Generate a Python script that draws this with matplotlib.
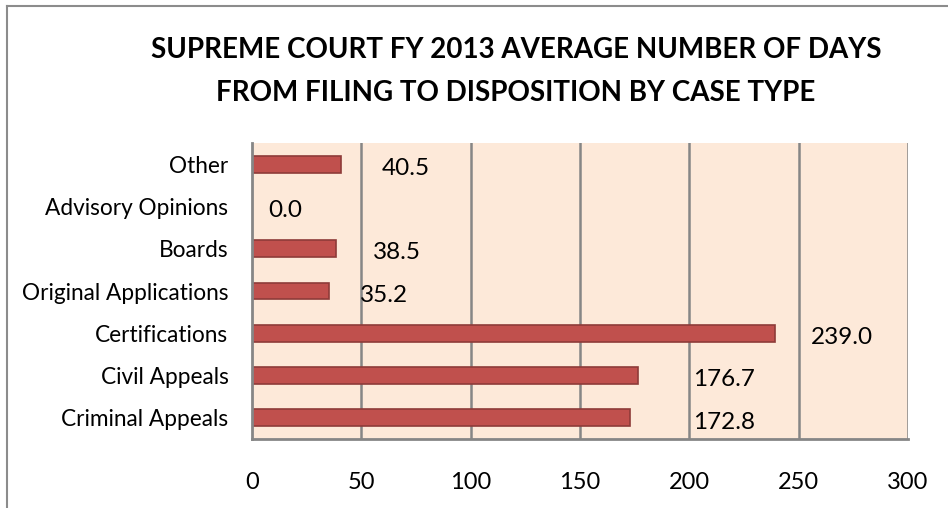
import matplotlib
matplotlib.use("Agg")
import matplotlib.pyplot as plt
from matplotlib.lines import Line2D

categories = ["Criminal Appeals", "Civil Appeals", "Certifications",
              "Original Applications", "Boards", "Advisory Opinions", "Other"]
values = [172.8, 176.7, 239.0, 35.2, 38.5, 0.0, 40.5]
value_labels = ["172.8", "176.7", "239.0", "35.2", "38.5", "0.0", "40.5"]
x_ticks = [0, 50, 100, 150, 200, 250, 300]
title = "SUPREME COURT FY 2013 AVERAGE NUMBER OF DAYS\nFROM FILING TO DISPOSITION BY CASE TYPE"
# horizontal offsets of the value labels (data units, label centre minus bar end)
label_offsets = [43, 39, 31, 25, 28, 15, 30]

FONT = ["Lato", "DejaVu Sans"]
plt.rcParams["font.family"] = FONT

W, H = 948, 508
fig = plt.figure(figsize=(W / 100, H / 100), dpi=100)
fig.patch.set_facecolor("white")

# outer chart border (only top and left visible in the crop)
fig.add_artist(Line2D([7 / W, 7 / W], [0, 1 - 6 / H], transform=fig.transFigure,
                      color="#8c8c8c", lw=1.5))
fig.add_artist(Line2D([7 / W, 1], [1 - 6 / H, 1 - 6 / H], transform=fig.transFigure,
                      color="#8c8c8c", lw=1.5))

left, right, top, bottom = 252, 908, 143, 439
ax = fig.add_axes([left / W, 1 - bottom / H, (right - left) / W, (bottom - top) / H])
ax.set_facecolor("#FDE9D9")

y = list(range(len(categories)))
ax.barh(y, values, height=0.4, color="#C0504D", edgecolor="#8E3B39", linewidth=1.2, zorder=3)

ax.set_xlim(0, 300)
ax.set_ylim(-0.5, len(categories) - 0.5)
ax.set_xticks(x_ticks)
ax.set_xticklabels([str(t) for t in x_ticks], fontsize=17)
ax.set_yticks(y)
ax.set_yticklabels(categories, fontsize=16.3)
ax.tick_params(axis="both", length=0, colors="black")
ax.tick_params(axis="x", pad=24)
ax.tick_params(axis="y", pad=17)

for t in x_ticks[1:]:
    ax.axvline(t, color="#868686", lw=1.8, zorder=2)

for s in ["top", "right"]:
    ax.spines[s].set_visible(False)
for s in ["left", "bottom"]:
    ax.spines[s].set_color("#868686")
    ax.spines[s].set_linewidth(2)
    ax.spines[s].set_zorder(4)

for yi, v, lab, off in zip(y, values, value_labels, label_offsets):
    ax.text(v + off, yi - 0.1, lab, ha="center", va="center", fontsize=17.5, zorder=5)

fig.text(516 / W, 1 - 71.5 / H, title, ha="center", va="center", fontsize=20,
         fontweight="bold", linespacing=1.85)

fig.savefig("out.png", dpi=100, facecolor="white")
